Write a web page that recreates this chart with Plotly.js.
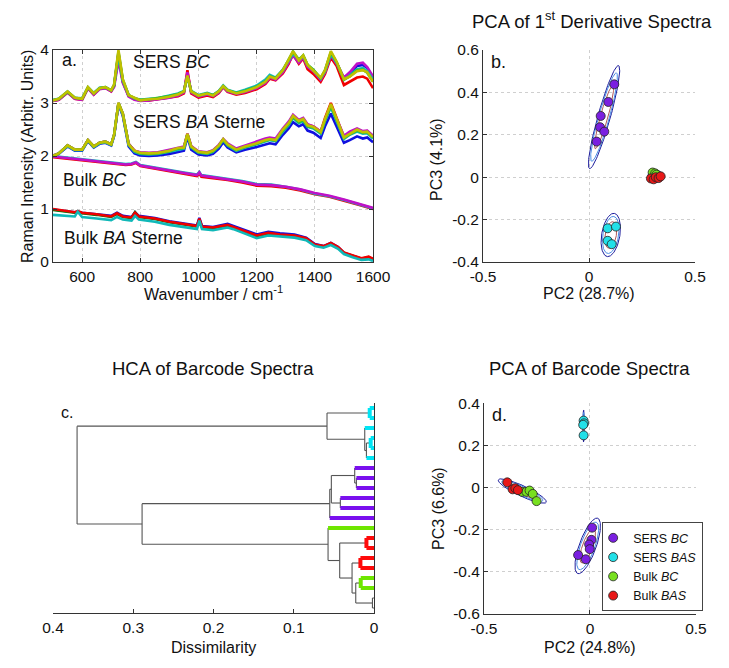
<!DOCTYPE html>
<html>
<head>
<meta charset="utf-8">
<script src="https://cdn.plot.ly/plotly-3.0.1.min.js"></script>
<style>
body { margin: 0; background: #fff; }
#graph { width: 729px; height: 668px; }
</style>
</head>
<body>
<div id="graph"></div>
<script>
// ---- panel a: Raman spectra (offset stacks) ----
var wnSers = [500,520,550,575,600,620,640,660,680,700,710,725,740,760,780,800,830,860,900,930,950,962,975,1000,1030,1050,1070,1085,1100,1130,1160,1200,1230,1245,1265,1290,1310,1325,1345,1360,1375,1395,1420,1435,1455,1475,1500,1520,1545,1565,1580,1600];

var sersBcBlue    = [3.05,3.07,3.21,3.09,3.07,3.29,3.17,3.28,3.29,3.23,3.33,3.94,3.41,3.14,3.08,3.05,3.06,3.08,3.11,3.15,3.21,3.54,3.21,3.13,3.17,3.14,3.21,3.31,3.23,3.18,3.22,3.30,3.40,3.50,3.46,3.60,3.78,3.95,3.78,3.88,3.70,3.60,3.45,3.60,3.94,3.76,3.47,3.55,3.70,3.72,3.66,3.48];
var sersBcRed     = [3.04,3.06,3.20,3.08,3.06,3.28,3.16,3.27,3.29,3.22,3.32,3.92,3.40,3.13,3.07,3.05,3.05,3.07,3.10,3.13,3.18,3.62,3.18,3.10,3.14,3.11,3.19,3.30,3.21,3.16,3.19,3.26,3.36,3.46,3.43,3.56,3.74,3.92,3.74,3.84,3.64,3.55,3.40,3.55,3.86,3.70,3.34,3.40,3.48,3.50,3.46,3.28];
var sersBcMagenta = [3.04,3.06,3.20,3.08,3.06,3.28,3.16,3.26,3.28,3.22,3.30,3.80,3.38,3.12,3.06,3.04,3.05,3.07,3.10,3.14,3.20,3.58,3.20,3.12,3.16,3.13,3.20,3.30,3.22,3.17,3.21,3.28,3.38,3.48,3.44,3.58,3.76,3.90,3.76,3.86,3.68,3.60,3.44,3.58,3.90,3.74,3.48,3.58,3.74,3.76,3.68,3.50];
var sersBcCyan    = [3.06,3.08,3.22,3.10,3.09,3.30,3.19,3.29,3.30,3.24,3.34,3.90,3.42,3.15,3.09,3.06,3.08,3.09,3.14,3.18,3.23,3.50,3.23,3.15,3.19,3.15,3.23,3.33,3.25,3.20,3.25,3.33,3.44,3.53,3.48,3.63,3.80,3.93,3.82,3.88,3.72,3.62,3.46,3.60,3.92,3.76,3.44,3.52,3.64,3.66,3.60,3.44];
var sersBcGreen   = [3.05,3.08,3.21,3.10,3.08,3.29,3.18,3.28,3.30,3.24,3.34,3.97,3.44,3.15,3.09,3.06,3.07,3.09,3.13,3.17,3.22,3.50,3.22,3.14,3.18,3.15,3.22,3.32,3.24,3.19,3.23,3.31,3.41,3.50,3.47,3.62,3.82,3.97,3.82,3.90,3.72,3.63,3.47,3.62,3.96,3.77,3.44,3.50,3.62,3.63,3.57,3.40];
var sersBcYellow  = [3.05,3.08,3.22,3.10,3.08,3.30,3.18,3.28,3.30,3.24,3.35,4.00,3.45,3.15,3.10,3.05,3.07,3.08,3.12,3.16,3.22,3.52,3.22,3.14,3.18,3.14,3.22,3.32,3.24,3.18,3.22,3.30,3.40,3.50,3.46,3.62,3.82,3.98,3.80,3.90,3.72,3.62,3.48,3.62,3.98,3.78,3.45,3.50,3.60,3.62,3.58,3.40];

var sersBaBlue    = [2.00,2.04,2.18,2.10,2.10,2.28,2.16,2.23,2.25,2.20,2.38,2.98,2.76,2.18,2.05,2.01,2.00,2.01,2.04,2.08,2.10,2.36,2.12,2.03,2.01,2.04,2.14,2.26,2.16,2.07,2.12,2.17,2.22,2.24,2.22,2.40,2.52,2.64,2.56,2.60,2.48,2.44,2.34,2.56,2.80,2.56,2.25,2.30,2.37,2.33,2.35,2.26];
var sersBaRed     = [2.00,2.05,2.20,2.12,2.12,2.30,2.18,2.25,2.27,2.22,2.40,3.00,2.80,2.23,2.10,2.06,2.05,2.06,2.10,2.14,2.16,2.42,2.18,2.08,2.06,2.10,2.20,2.31,2.22,2.12,2.18,2.24,2.30,2.33,2.30,2.50,2.63,2.76,2.66,2.70,2.59,2.56,2.46,2.72,3.00,2.72,2.36,2.43,2.50,2.46,2.47,2.37];
var sersBaMagenta = [2.01,2.05,2.20,2.12,2.12,2.30,2.18,2.25,2.27,2.22,2.39,2.98,2.78,2.23,2.10,2.07,2.06,2.07,2.12,2.16,2.18,2.42,2.19,2.09,2.07,2.11,2.21,2.32,2.24,2.14,2.20,2.27,2.33,2.35,2.33,2.52,2.65,2.78,2.68,2.72,2.60,2.56,2.46,2.68,2.94,2.70,2.38,2.46,2.52,2.47,2.48,2.38];
var sersBaCyan    = [2.00,2.05,2.19,2.11,2.11,2.29,2.17,2.24,2.26,2.21,2.39,2.99,2.78,2.21,2.08,2.04,2.03,2.04,2.08,2.12,2.14,2.40,2.16,2.06,2.04,2.08,2.18,2.30,2.20,2.10,2.16,2.22,2.27,2.30,2.28,2.46,2.58,2.72,2.62,2.66,2.55,2.52,2.42,2.66,2.92,2.66,2.32,2.40,2.46,2.42,2.43,2.33];
var sersBaGreen   = [2.00,2.05,2.20,2.12,2.12,2.30,2.18,2.25,2.27,2.22,2.40,3.00,2.80,2.22,2.09,2.05,2.04,2.05,2.09,2.14,2.15,2.41,2.17,2.07,2.05,2.09,2.19,2.31,2.21,2.11,2.17,2.23,2.29,2.31,2.29,2.48,2.60,2.74,2.64,2.68,2.56,2.54,2.44,2.68,2.95,2.68,2.34,2.41,2.48,2.44,2.45,2.35];
var sersBaYellow  = [2.00,2.05,2.20,2.12,2.12,2.30,2.18,2.25,2.27,2.22,2.40,3.00,2.80,2.22,2.10,2.06,2.05,2.06,2.10,2.15,2.16,2.42,2.18,2.08,2.06,2.10,2.20,2.32,2.22,2.12,2.18,2.24,2.30,2.32,2.30,2.50,2.62,2.76,2.66,2.70,2.58,2.55,2.45,2.70,2.98,2.70,2.35,2.42,2.50,2.45,2.46,2.36];

var wnBulkBc = [500,550,600,650,700,750,770,785,800,850,900,950,995,1003,1010,1050,1100,1150,1200,1250,1300,1350,1400,1450,1500,1550,1600];
var bulkBcRed     = [1.98,1.95,1.92,1.89,1.86,1.83,1.84,1.87,1.81,1.76,1.71,1.66,1.62,1.67,1.61,1.58,1.55,1.50,1.44,1.43,1.40,1.35,1.28,1.23,1.16,1.08,1.00];
var bulkBcCyan    = [2.00,1.97,1.94,1.91,1.88,1.85,1.86,1.89,1.83,1.78,1.73,1.69,1.65,1.70,1.64,1.61,1.58,1.53,1.47,1.46,1.42,1.37,1.29,1.24,1.17,1.09,1.01];
var bulkBcMagenta = [1.99,1.96,1.93,1.90,1.87,1.84,1.85,1.88,1.82,1.77,1.72,1.68,1.64,1.69,1.63,1.60,1.57,1.52,1.46,1.45,1.42,1.37,1.30,1.25,1.18,1.10,1.02];

var wnBulkBa = [500,540,575,585,600,650,700,720,740,770,782,795,820,850,900,950,995,1003,1012,1050,1080,1100,1120,1150,1200,1240,1280,1330,1370,1400,1430,1455,1480,1500,1530,1560,1585,1600];
var bulkBaBlue  = [0.99,0.96,0.94,0.95,0.93,0.90,0.87,0.93,0.87,0.85,0.94,0.87,0.85,0.83,0.77,0.73,0.69,0.83,0.68,0.66,0.70,0.72,0.68,0.62,0.52,0.57,0.54,0.52,0.46,0.34,0.30,0.36,0.28,0.17,0.11,0.06,0.08,0.05];
var bulkBaGreen = [0.98,0.95,0.93,0.94,0.92,0.89,0.85,0.91,0.85,0.83,0.94,0.85,0.83,0.81,0.75,0.71,0.67,0.80,0.66,0.64,0.67,0.69,0.65,0.59,0.49,0.54,0.51,0.49,0.44,0.32,0.29,0.35,0.27,0.17,0.11,0.06,0.09,0.05];
var bulkBaRed   = [1.00,0.97,0.94,0.96,0.93,0.90,0.86,0.92,0.86,0.84,0.93,0.86,0.84,0.82,0.76,0.72,0.68,0.82,0.67,0.65,0.68,0.70,0.66,0.60,0.50,0.55,0.52,0.50,0.45,0.33,0.30,0.36,0.28,0.18,0.12,0.07,0.10,0.06];
var bulkBaCyan  = [0.89,0.87,0.86,0.95,0.85,0.82,0.79,0.85,0.80,0.78,0.87,0.80,0.78,0.76,0.70,0.66,0.62,0.78,0.62,0.60,0.63,0.65,0.62,0.56,0.45,0.50,0.48,0.46,0.41,0.30,0.27,0.32,0.25,0.15,0.09,0.04,0.05,0.02];

// ---- panel b: PCA scores of 1st derivative spectra ----
var bSersBcX  = [0.119, 0.091, 0.055, 0.052, 0.072, 0.036];
var bSersBcY  = [0.438, 0.355, 0.289, 0.236, 0.215, 0.168];
var bSersBasX = [0.088, 0.127, 0.088, 0.107];
var bSersBasY = [-0.241, -0.233, -0.300, -0.316];
var bBulkBcX  = [0.300, 0.312, 0.318];
var bBulkBcY  = [0.022, 0.018, 0.012];
var bBulkBasX = [0.292, 0.305, 0.315, 0.328, 0.338];
var bBulkBasY = [-0.006, -0.010, 0.000, -0.004, 0.004];

// ---- panel c: dendrogram, leaves top to bottom + linkage (MATLAB style) ----
var leafClass = ['sbas','sbas','sbas','sbas','sbas','sbas','sbc','sbc','sbc','sbc','sbc','sbc','bbc','bbas','bbas','bbas','bbas','bbc','bbc','none','none'];
var linkLeft   = [1, 4, 23, 3, 22, 8, 7, 10, 28, 30, 14, 16, 18, 20, 34, 33, 32, 13, 31, 26];
var linkRight  = [2, 5, 6, 24, 25, 9, 27, 11, 29, 12, 15, 17, 19, 21, 35, 36, 37, 38, 39, 40];
var linkHeight = [0.0054, 0.0042, 0.0095, 0.0116, 0.0586, 0.022, 0.0241, 0.042, 0.0532, 0.0552, 0.0095, 0.017, 0.0166, 0.002, 0.0228, 0.0274, 0.0428, 0.0573, 0.289, 0.370];

// ---- panel d: PCA scores of barcode spectra ----
var dSersBcX  = [0.010, 0.007, -0.004, -0.001, -0.020, -0.056];
var dSersBcY  = [-0.190, -0.248, -0.270, -0.292, -0.340, -0.320];
var dSersBasX = [-0.030, -0.028, -0.032, -0.030];
var dSersBasY = [0.318, 0.305, 0.298, 0.248];
var dBulkBcX  = [-0.320, -0.300, -0.285, -0.270, -0.252];
var dBulkBcY  = [-0.020, -0.020, -0.014, -0.030, -0.064];
var dBulkBasX = [-0.390, -0.365, -0.352, -0.340];
var dBulkBasY = [0.025, -0.008, -0.003, -0.012];

// tick labels
var aTickX = [600, 800, 1000, 1200, 1400, 1600];
var aTickY = [0, 1, 2, 3, 4];
var bTickX = [-0.5, 0, 0.5];
var bTickXText = ['-0.5', '0', '0.5'];
var bTickY = [-0.4, -0.2, 0, 0.2, 0.4, 0.6];
var bTickYText = ['-0.4', '-0.2', '0', '0.2', '0.4', '0.6'];
var cTickX = [0.4, 0.3, 0.2, 0.1, 0];
var cTickXText = ['0.4', '0.3', '0.2', '0.1', '0'];
var dTickY = [-0.6, -0.4, -0.2, 0, 0.2, 0.4];
var dTickYText = ['-0.6', '-0.4', '-0.2', '0', '0.2', '0.4'];

var classNames = {sbc: 'SERS <i>BC</i>', sbas: 'SERS <i>BAS</i>', bbc: 'Bulk <i>BC</i>', bbas: 'Bulk <i>BAS</i>'};
var markerColors = {sbc: '#7a1fe0', sbas: '#22e0e8', bbc: '#78e020', bbas: '#e81818'};
var dendroColors = {sbc: '#7a10ee', sbas: '#00e5f5', bbc: '#6ee600', bbas: '#ff0a0a'};

var fontFam = 'Liberation Sans, Arial, sans-serif';
drawGraph();

function spectrum(x, y, color)
{
    return {x: x, y: y, xaxis: 'x', yaxis: 'y', type: 'scatter', mode: 'lines',
            line: {color: color, width: 2.6}, showlegend: false, hoverinfo: 'skip'};
}

// confidence ellipse from the sample covariance of a group, k = scale in std units
function ellipse(xs, ys, k, color, xa, ya)
{
    var n = xs.length, mx = 0, my = 0, sxx = 0, syy = 0, sxy = 0;
    for (var i = 0; i < n; i++) { mx += xs[i] / n; my += ys[i] / n; }
    for (var i = 0; i < n; i++) {
        sxx += (xs[i] - mx) * (xs[i] - mx) / (n - 1);
        syy += (ys[i] - my) * (ys[i] - my) / (n - 1);
        sxy += (xs[i] - mx) * (ys[i] - my) / (n - 1);
    }
    var tr = (sxx + syy) / 2, df = Math.sqrt(Math.pow((sxx - syy) / 2, 2) + sxy * sxy);
    var l1 = tr + df, l2 = Math.max(tr - df, 0);
    var th = 0.5 * Math.atan2(2 * sxy, sxx - syy);
    var ex = [], ey = [];
    for (var t = 0; t <= 360; t += 3) {
        var a = t * Math.PI / 180;
        var u = k * Math.sqrt(l1) * Math.cos(a), v = k * Math.sqrt(l2) * Math.sin(a);
        ex.push(mx + u * Math.cos(th) - v * Math.sin(th));
        ey.push(my + u * Math.sin(th) + v * Math.cos(th));
    }
    return {x: ex, y: ey, xaxis: xa, yaxis: ya, type: 'scatter', mode: 'lines',
            line: {color: color, width: 1}, showlegend: false, hoverinfo: 'skip'};
}

function ellipseSet(xs, ys, xa, ya)
{
    return [ellipse(xs, ys, 2.45, '#1c1c9c', xa, ya),
            ellipse(xs, ys, 2.1, '#4a8ee6', xa, ya),
            ellipse(xs, ys, 1.5, '#b05a5a', xa, ya)];
}

function scores(xs, ys, cls, xa, ya, legend)
{
    return {x: xs, y: ys, xaxis: xa, yaxis: ya, type: 'scatter', mode: 'markers',
            name: classNames[cls], showlegend: legend, hoverinfo: 'skip',
            marker: {size: 9, color: markerColors[cls], line: {color: '#222', width: 0.8}}};
}

function dendrogram()
{
    var nLeaves = leafClass.length;
    var nodeY = [], nodeH = [];
    for (var i = 0; i < nLeaves; i++) { nodeY.push(i + 1); nodeH.push(0); }
    var segs = {gray: {x: [], y: []}};
    for (var c in dendroColors) segs[c] = {x: [], y: []};
    function add(key, x0, y0, x1, y1) {
        segs[key].x.push(x0, x1, null);
        segs[key].y.push(y0, y1, null);
    }
    for (var j = 0; j < linkHeight.length; j++) {
        var l = linkLeft[j] - 1, r = linkRight[j] - 1, h = linkHeight[j];
        [l, r].forEach(function (ch) {
            var key = (ch < nLeaves && dendroColors[leafClass[ch]]) ? leafClass[ch] : 'gray';
            add(key, nodeH[ch], nodeY[ch], h, nodeY[ch]);
        });
        // tight pairs of the same class get a coloured bracket
        var pair = l < nLeaves && r < nLeaves && leafClass[l] == leafClass[r] && dendroColors[leafClass[l]] && h < 0.02;
        add(pair ? leafClass[l] : 'gray', h, nodeY[l], h, nodeY[r]);
        nodeY.push((nodeY[l] + nodeY[r]) / 2); nodeH.push(h);
    }
    var out = [{x: segs.gray.x, y: segs.gray.y, xaxis: 'x3', yaxis: 'y3', type: 'scatter', mode: 'lines',
                line: {color: '#555', width: 1.1}, showlegend: false, hoverinfo: 'skip'}];
    for (var c in dendroColors) {
        out.push({x: segs[c].x, y: segs[c].y, xaxis: 'x3', yaxis: 'y3', type: 'scatter', mode: 'lines',
                  line: {color: dendroColors[c], width: 4}, showlegend: false, hoverinfo: 'skip'});
    }
    return out;
}

function axisStyle(extra)
{
    var base = {showline: true, linecolor: '#333', linewidth: 1, ticks: 'inside', ticklen: 4,
                tickcolor: '#333', showgrid: true, gridcolor: '#cfcfcf', griddash: 'dot',
                zeroline: false, tickfont: {size: 15.5, color: '#111'}, tickmode: 'array'};
    for (var k in extra) base[k] = extra[k];
    return base;
}

// text placed in paper coordinates (axis titles, panel titles)
function label(text, x, y, size, angle)
{
    return {xref: 'paper', yref: 'paper', x: x, y: y, text: text, showarrow: false,
            xanchor: 'center', yanchor: 'middle', textangle: angle || 0, font: {size: size}};
}

function drawGraph()
{
    var data = [];
    // panel a
    data.push(spectrum(wnBulkBa, bulkBaBlue, '#1010e0'));
    data.push(spectrum(wnBulkBa, bulkBaGreen, '#008000'));
    data.push(spectrum(wnBulkBa, bulkBaRed, '#f00000'));
    data.push(spectrum(wnBulkBa, bulkBaCyan, '#10b8b8'));
    data.push(spectrum(wnBulkBc, bulkBcRed, '#f00000'));
    data.push(spectrum(wnBulkBc, bulkBcCyan, '#10b8b8'));
    data.push(spectrum(wnBulkBc, bulkBcMagenta, '#c010c8'));
    data.push(spectrum(wnSers, sersBaBlue, '#1010e0'));
    data.push(spectrum(wnSers, sersBaRed, '#f00000'));
    data.push(spectrum(wnSers, sersBaMagenta, '#c010c8'));
    data.push(spectrum(wnSers, sersBaCyan, '#10b8b8'));
    data.push(spectrum(wnSers, sersBaGreen, '#30c030'));
    data.push(spectrum(wnSers, sersBaYellow, '#c0c000'));
    data.push(spectrum(wnSers, sersBcBlue, '#1010e0'));
    data.push(spectrum(wnSers, sersBcRed, '#f00000'));
    data.push(spectrum(wnSers, sersBcMagenta, '#c010c8'));
    data.push(spectrum(wnSers, sersBcCyan, '#10b8b8'));
    data.push(spectrum(wnSers, sersBcGreen, '#30c030'));
    data.push(spectrum(wnSers, sersBcYellow, '#c0c000'));

    // panel b
    data = data.concat(ellipseSet(bSersBcX, bSersBcY, 'x2', 'y2'));
    data = data.concat(ellipseSet(bSersBasX, bSersBasY, 'x2', 'y2'));
    data = data.concat(ellipseSet(bBulkBcX.concat(bBulkBasX), bBulkBcY.concat(bBulkBasY), 'x2', 'y2'));
    data.push(scores(bSersBcX, bSersBcY, 'sbc', 'x2', 'y2', false));
    data.push(scores(bSersBasX, bSersBasY, 'sbas', 'x2', 'y2', false));
    data.push(scores(bBulkBcX, bBulkBcY, 'bbc', 'x2', 'y2', false));
    data.push(scores(bBulkBasX, bBulkBasY, 'bbas', 'x2', 'y2', false));

    // panel c
    data = data.concat(dendrogram());

    // panel d
    data = data.concat(ellipseSet(dSersBcX, dSersBcY, 'x4', 'y4'));
    data = data.concat(ellipseSet(dSersBasX, dSersBasY, 'x4', 'y4'));
    data = data.concat(ellipseSet(dBulkBcX.concat(dBulkBasX), dBulkBcY.concat(dBulkBasY), 'x4', 'y4'));
    data.push(scores(dSersBcX, dSersBcY, 'sbc', 'x4', 'y4', true));
    data.push(scores(dSersBasX, dSersBasY, 'sbas', 'x4', 'y4', true));
    data.push(scores(dBulkBcX, dBulkBcY, 'bbc', 'x4', 'y4', true));
    data.push(scores(dBulkBasX, dBulkBasY, 'bbas', 'x4', 'y4', true));

    var layout = {
        width: 729,
        height: 668,
        margin: {l: 0, r: 0, t: 0, b: 0},
        paper_bgcolor: '#fff',
        plot_bgcolor: 'rgba(0,0,0,0)',
        font: {family: fontFam, color: '#111'},
        showlegend: true,
        legend: {x: 0.826, y: 0.085, xanchor: 'left', yanchor: 'bottom', bgcolor: '#fff', indentation: -10,
                 bordercolor: '#444', borderwidth: 1, font: {size: 12.5}, tracegroupgap: 0},
        xaxis: axisStyle({domain: [0.0727, 0.5117], anchor: 'y', range: [500, 1600], mirror: 'ticks', tickvals: aTickX}),
        yaxis: axisStyle({domain: [0.6078, 0.9251], anchor: 'x', range: [0, 4], mirror: 'ticks', tickvals: aTickY}),
        xaxis2: axisStyle({domain: [0.6626, 0.9534], anchor: 'y2', range: [-0.5, 0.5], tickvals: bTickX, ticktext: bTickXText}),
        yaxis2: axisStyle({domain: [0.6078, 0.9251], anchor: 'x2', range: [-0.4, 0.6], tickvals: bTickY, ticktext: bTickYText}),
        xaxis3: axisStyle({domain: [0.0727, 0.5131], anchor: 'y3', range: [0.4, 0], showgrid: false,
                           tickvals: cTickX, ticktext: cTickXText}),
        yaxis3: {domain: [0.0823, 0.3967], anchor: 'x3', range: [21.5, 0.5], side: 'right', showline: true,
                 linecolor: '#333', showticklabels: false, ticks: '', showgrid: false, zeroline: false},
        xaxis4: axisStyle({domain: [0.6639, 0.9547], anchor: 'y4', range: [-0.5, 0.5], tickvals: bTickX, ticktext: bTickXText}),
        yaxis4: axisStyle({domain: [0.0808, 0.3962], anchor: 'x4', range: [-0.6, 0.4], tickvals: dTickY, ticktext: dTickYText}),
        annotations: [
            // panel letters and spectrum labels
            {xref: 'x', yref: 'y', x: 524, y: 3.81, text: 'a.', showarrow: false, xanchor: 'left', font: {size: 18}},
            {xref: 'x', yref: 'y', x: 768, y: 3.77, text: 'SERS <i>BC</i>', showarrow: false, xanchor: 'left', font: {size: 17.5}},
            {xref: 'x', yref: 'y', x: 768, y: 2.64, text: 'SERS <i>BA</i> Sterne', showarrow: false, xanchor: 'left', font: {size: 17.5}},
            {xref: 'x', yref: 'y', x: 527, y: 1.55, text: 'Bulk <i>BC</i>', showarrow: false, xanchor: 'left', font: {size: 17.5}},
            {xref: 'x', yref: 'y', x: 531, y: 0.45, text: 'Bulk <i>BA</i> Sterne', showarrow: false, xanchor: 'left', font: {size: 17.5}},
            {xref: 'x2', yref: 'y2', x: -0.47, y: 0.543, text: 'b.', showarrow: false, xanchor: 'left', font: {size: 18}},
            {xref: 'x3', yref: 'y3', x: 0.392, y: 1.4, text: 'c.', showarrow: false, xanchor: 'left', font: {size: 16}},
            {xref: 'x4', yref: 'y4', x: -0.47, y: 0.344, text: 'd.', showarrow: false, xanchor: 'left', font: {size: 18}},
            // panel titles
            label('PCA of 1<sup>st</sup> Derivative Spectra', 0.812, 0.970, 18.5),
            label('HCA of Barcode Spectra', 0.292, 0.449, 18.5),
            label('PCA of Barcode Spectra', 0.809, 0.449, 18.5),
            // axis titles
            label('Wavenumber / cm<sup>-1</sup>', 0.2922, 0.5614, 16),
            label('Raman Intensity (Arbitr. Units)', 0.0384, 0.7665, 16, -90),
            label('PC2 (28.7%)', 0.808, 0.5599, 16),
            label('PC3 (4.1%)', 0.5995, 0.7605, 16, -90),
            label('Dissimilarity', 0.2922, 0.0314, 16),
            label('PC2 (24.8%)', 0.809, 0.0314, 16),
            label('PC3 (6.6%)', 0.6008, 0.2395, 16, -90)
        ]
    };

    Plotly.newPlot("graph", data, layout, {staticPlot: true});
}
</script>
</body>
</html>
